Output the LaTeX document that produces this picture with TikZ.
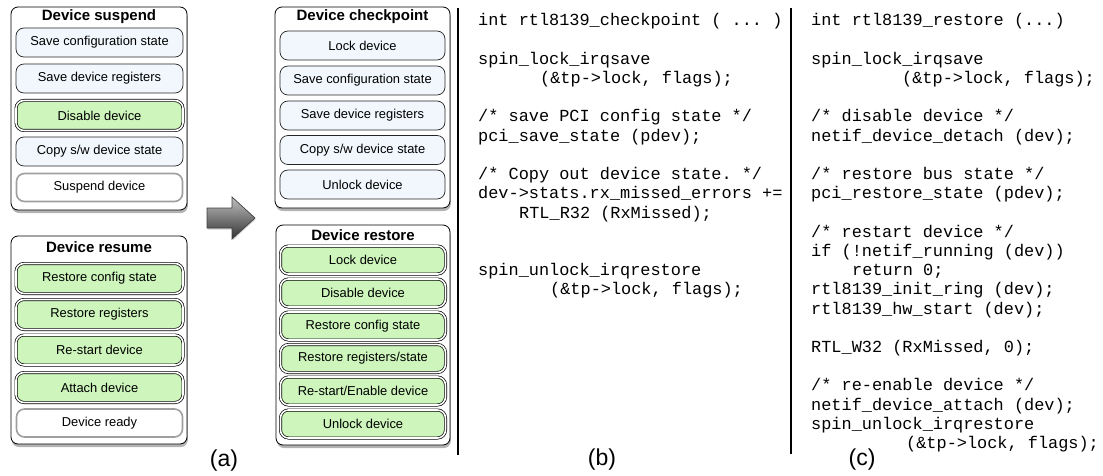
\documentclass[tikz,border=0pt]{standalone}
\usepackage{fontspec}
\setmainfont{Liberation Sans}
\setmonofont{Liberation Mono}
\usetikzlibrary{shadows}
\definecolor{boxblue}{RGB}{242,247,253}
\definecolor{boxgreen}{RGB}{205,245,188}
\tikzset{
  panel/.style={draw=black, line width=0.8pt, rounded corners=7pt, fill=white,
    drop shadow={shadow xshift=0.8pt, shadow yshift=-3pt, opacity=0.6}},
  paneltitle/.style={font=\bfseries\fontsize{15}{18}\selectfont, inner sep=0pt},
  boxbase/.style={rounded corners=8pt, inner sep=0pt, font=\fontsize{12.9}{15}\selectfont},
  bluebox/.style={boxbase, draw=black!85, line width=0.7pt, fill=boxblue,
    minimum width=167pt, minimum height=29pt},
  greenbox/.style={boxbase, draw=black, line width=0.7pt, double=white, double distance=1.6pt,
    fill=boxgreen, minimum width=167pt, minimum height=30pt},
  whitebox/.style={boxbase, draw=gray!75, line width=1.6pt, fill=white,
    minimum width=166pt, minimum height=28pt},
  code/.style={font=\ttfamily\fontsize{16.9}{19.2}\selectfont, anchor=base west, inner sep=0pt},
  sublabel/.style={font=\fontsize{23}{26}\selectfont, inner sep=0pt},
  sep/.style={line width=2.3pt, black},
  bigarrow/.style={top color=gray!50, bottom color=black!80, draw=black!75, line width=0.7pt,
    drop shadow={shadow xshift=0.5pt, shadow yshift=-1.5pt, opacity=0.35}}
}
\begin{document}
\begin{tikzpicture}[x=1pt,y=-1pt]
\useasboundingbox (0,0) rectangle (1103,476);

% ---------- Device suspend ----------
\node[panel, minimum width=176pt, minimum height=203pt] (susp) at (99,108.5) {};
\node[paneltitle] (suspT) at (99,17) {Device suspend};
\node[bluebox] (s1) at (99.5,42.5) {Save configuration state};
\node[bluebox] (s2) at (99.5,78.5) {Save device registers};
\node[greenbox] (s3) at (99.5,115.5) {Disable device};
\node[bluebox] (s4) at (99.5,151.5) {Copy s/w device state};
\node[whitebox] (s5) at (99.5,187.5) {Suspend device};

% ---------- Device resume ----------
\node[panel, minimum width=176pt, minimum height=208pt] (resu) at (99,340) {};
\node[paneltitle] (resuT) at (99,247) {Device resume};
\node[greenbox] (r1) at (99.5,278.5) {Restore config state};
\node[greenbox] (r2) at (99.5,314.5) {Restore registers};
\node[greenbox] (r3) at (99.5,350) {Re-start device};
\node[greenbox] (r4) at (99.5,387.5) {Attach device};
\node[whitebox] (r5) at (99.5,423) {Device ready};

% ---------- arrow ----------
\draw[bigarrow] (207,208) -- (232,208) -- (232,197) -- (255,218) -- (232,239) -- (232,228) -- (207,228) -- cycle;

% ---------- Device checkpoint ----------
\node[panel, minimum width=175pt, minimum height=201pt] (chk) at (362.5,107.5) {};
\node[paneltitle] (chkT) at (362.5,17) {Device checkpoint};
\node[bluebox, minimum width=165pt] (c1) at (362.5,45.5) {Lock device};
\node[bluebox, minimum width=165pt] (c2) at (362.5,80.5) {Save configuration state};
\node[bluebox, minimum width=165pt] (c3) at (362.5,115.5) {Save device registers};
\node[bluebox, minimum width=165pt] (c4) at (362.5,150) {Copy s/w device state};
\node[bluebox, minimum width=165pt] (c5) at (362.5,184.5) {Unlock device};

% ---------- Device restore ----------
\node[panel, minimum width=174pt, minimum height=220pt] (rst) at (363,335) {};
\node[paneltitle] (rstT) at (363,235) {Device restore};
\node[greenbox, minimum width=165pt, minimum height=28pt] (d1) at (363,260) {Lock device};
\node[greenbox, minimum width=165pt, minimum height=28pt] (d2) at (363,293) {Disable device};
\node[greenbox, minimum width=165pt, minimum height=28pt] (d3) at (363,326) {Restore config state};
\node[greenbox, minimum width=165pt, minimum height=28pt] (d4) at (363,358.5) {Restore registers/state};
\node[greenbox, minimum width=165pt, minimum height=28pt] (d5) at (363,391) {Re-start/Enable device};
\node[greenbox, minimum width=165pt, minimum height=28pt] (d6) at (363,424) {Unlock device};

% ---------- separators ----------
\coordinate (l1t) at (458,8);  \coordinate (l1b) at (458,455);
\coordinate (l2t) at (791,8);  \coordinate (l2b) at (791,454);
\draw[sep] (l1t) -- (l1b);
\draw[sep] (l2t) -- (l2b);

% ---------- code (b) ----------
\node[code] (b0)  at (478,26)    {int rtl8139\_checkpoint ( ... )};
\node[code] (b2)  at (478,64.4)  {spin\_lock\_irqsave};
\node[code] (b3)  at (540,83.6)  {(\&tp->lock, flags);};
\node[code] (b5)  at (478,122)   {/* save PCI config state */};
\node[code] (b6)  at (478,141.2) {pci\_save\_state (pdev);};
\node[code] (b8)  at (478,179.6) {/* Copy out device state. */};
\node[code] (b9)  at (478,198.8) {dev->stats.rx\_missed\_errors +=};
\node[code] (b10) at (519,218)   {RTL\_R32 (RxMissed);};
\node[code] (b13) at (478,275.6) {spin\_unlock\_irqrestore};
\node[code] (b14) at (550,294.8) {(\&tp->lock, flags);};

% ---------- code (c) ----------
\node[code] (k0)  at (811,26)    {int rtl8139\_restore (...)};
\node[code] (k2)  at (811,64.4)  {spin\_lock\_irqsave};
\node[code] (k3)  at (902,83.6)  {(\&tp->lock, flags);};
\node[code] (k5)  at (811,122)   {/* disable device */};
\node[code] (k6)  at (811,141.2) {netif\_device\_detach (dev);};
\node[code] (k8)  at (811,179.6) {/* restore bus state */};
\node[code] (k9)  at (811,198.8) {pci\_restore\_state (pdev);};
\node[code] (k11) at (811,237.2) {/* restart device */};
\node[code] (k12) at (811,256.4) {if (!netif\_running (dev))};
\node[code] (k13) at (852,275.6) {return 0;};
\node[code] (k14) at (811,294.8) {rtl8139\_init\_ring (dev);};
\node[code] (k15) at (811,314)   {rtl8139\_hw\_start (dev);};
\node[code] (k17) at (811,352.4) {RTL\_W32 (RxMissed, 0);};
\node[code] (k19) at (811,390.8) {/* re-enable device */};
\node[code] (k20) at (811,410)   {netif\_device\_attach (dev);};
\node[code] (k21) at (811,429.2) {spin\_unlock\_irqrestore};
\node[code] (k22) at (906,448.4) {(\&tp->lock, flags);};

% ---------- sub-labels ----------
\node[sublabel] (la) at (224,461) {(a)};
\node[sublabel] (lb) at (602,460) {(b)};
\node[sublabel] (lc) at (862,460) {(c)};
\end{tikzpicture}
\end{document}
